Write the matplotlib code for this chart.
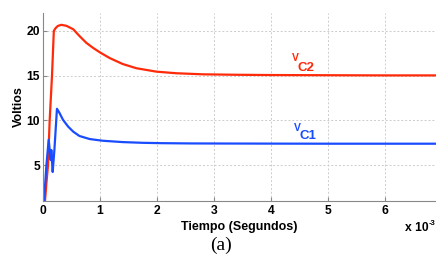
import matplotlib
matplotlib.use("Agg")
import matplotlib.pyplot as plt
from matplotlib.ticker import FuncFormatter

plt.rcParams["font.family"] = ["Liberation Sans", "DejaVu Sans"]
plt.rcParams["font.weight"] = "bold"

# Time in milliseconds (converted to seconds for plotting)
t_c2_ms = [0.0, 0.035, 0.06, 0.088, 0.117, 0.158, 0.19, 0.22, 0.26, 0.32,
           0.41, 0.53, 0.64, 0.76, 0.88, 1.0, 1.17, 1.40, 1.64, 1.99,
           2.34, 2.81, 3.4, 4.0, 5.0, 6.0, 7.0]
v_c2 = [0.0, 1.0, 3.0, 5.0, 10.0, 15.0, 20.0, 20.3, 20.55, 20.68,
        20.57, 20.19, 19.43, 18.67, 18.1, 17.6, 16.97, 16.3, 15.83, 15.45,
        15.27, 15.15, 15.1, 15.07, 15.05, 15.03, 15.03]

t_c1_ms = [0.0, 0.018, 0.06, 0.1, 0.135, 0.146, 0.17, 0.19, 0.2, 0.245,
           0.29, 0.35, 0.44, 0.53, 0.64, 0.82, 1.05, 1.40, 1.75, 2.08,
           2.6, 3.2, 4.0, 5.0, 6.0, 7.0]
v_c1 = [0.0, 1.0, 5.0, 7.84, 5.57, 6.7, 4.24, 5.9, 6.7, 11.3,
        10.83, 10.08, 9.32, 8.75, 8.26, 7.92, 7.73, 7.58, 7.5, 7.46,
        7.43, 7.42, 7.41, 7.4, 7.4, 7.4]

x_ticks_ms = [0, 1, 2, 3, 4, 5, 6]
y_ticks = [5, 10, 15, 20]

t_c2 = [v * 1e-3 for v in t_c2_ms]
t_c1 = [v * 1e-3 for v in t_c1_ms]

W, H = 436, 266
fig = plt.figure(figsize=(W / 100, H / 100), dpi=100)
ax = fig.add_axes([43/W, 1-201/H, 1-43/W, (201-13)/H])

red = "#ff2a0a"
blue = "#1a4cff"
ax.plot(t_c2, v_c2, color=red, lw=1.6)
ax.plot(t_c1, v_c1, color=blue, lw=1.6)

ax.set_xlim(0, 6.9e-3)
ax.set_ylim(1, 22)
ax.set_xticks([v * 1e-3 for v in x_ticks_ms])
ax.set_yticks(y_ticks)
ax.xaxis.set_major_formatter(FuncFormatter(lambda v, p: f"{v*1e3:.0f}"))
ax.grid(True, color="#cccccc", linestyle=(0, (2, 2)), lw=0.7)
for s in ["top", "right"]:
    ax.spines[s].set_visible(False)
for s in ["left", "bottom"]:
    ax.spines[s].set_color("#888888")
ax.tick_params(direction="in", length=3, color="#888888", labelsize=8.7)
ax.tick_params(axis="y", pad=2)
ax.tick_params(axis="x", pad=3)

ax.set_xlabel("Tiempo (Segundos)", fontsize=9, fontweight="bold", labelpad=2.5)
ax.set_ylabel("Voltios", fontsize=9, fontweight="bold", labelpad=1)

fig.text(405/W, 1-231/H, "x 10", fontsize=8.7, fontweight="bold",
         va="baseline", ha="left")
fig.text(429/W, 1-225/H, "-3", fontsize=5.5, fontweight="bold",
         va="baseline", ha="left")

# labels: "V" raised, "C2"/"C1" lower
ax.text(4.37e-3, 16.66, "V", color=red, fontsize=7.5, fontweight="bold", va="baseline")
ax.text(4.47e-3, 15.52, "C2", color=red, fontsize=9.5, fontweight="bold", va="baseline")
ax.text(4.40e-3, 8.78, "V", color=blue, fontsize=7.5, fontweight="bold", va="baseline")
ax.text(4.50e-3, 7.88, "C1", color=blue, fontsize=9.5, fontweight="bold", va="baseline")

fig.text(221/W, 1-245/H, "(a)", fontsize=14, family="Liberation Serif",
         fontweight="normal", ha="center", va="center")

fig.savefig("out.png", dpi=100)
